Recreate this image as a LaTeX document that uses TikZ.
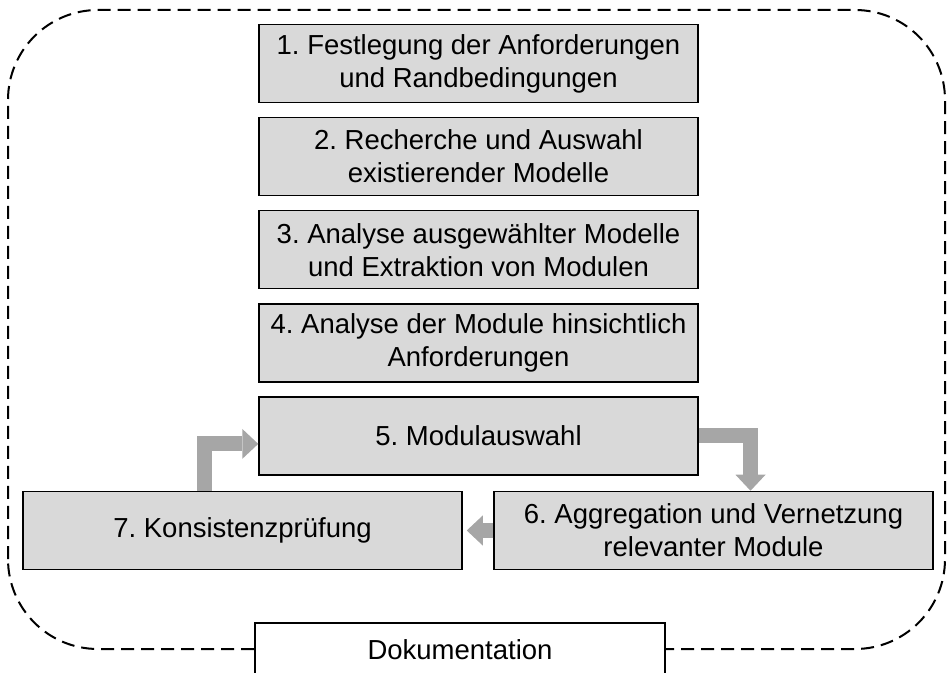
\documentclass[tikz,border=0pt]{standalone}
\usepackage{fontspec}
\setmainfont{Liberation Sans}
\usetikzlibrary{arrows.meta,positioning}
\definecolor{BoxGray}{HTML}{D9D9D9}
\definecolor{FlowGray}{HTML}{A6A6A6}
\frenchspacing

\begin{document}
\begin{tikzpicture}[x=1pt,y=1pt,
      stepbox/.style={rectangle,draw=black,line width=1.5pt,fill=BoxGray,
      minimum width=439pt,minimum height=78pt,align=center,inner sep=2pt,
      font=\fontsize{27.5}{33}\selectfont},
      docbox/.style={stepbox,fill=white,minimum width=410pt,minimum height=53pt},
      flow/.style={-{Triangle[length=16pt,width=30pt,line width=0pt]},FlowGray,
      line width=15pt,line join=miter}]
      \useasboundingbox (0,0) rectangle (947,672);
      \draw[dash pattern=on 13pt off 7pt,line width=2pt,rounded corners=90pt]
        (8,23) rectangle (945,662);
      \node[stepbox] (b1) at (478.5,608.5) {1. Festlegung der Anforderungen\\und Randbedingungen};
      \node[stepbox,below=13.6pt of b1] (b2) {2. Recherche und Auswahl\\existierender Modelle};
      \node[stepbox,below=13.6pt of b2] (b3) {3. Analyse ausgewählter Modelle\\und Extraktion von Modulen};
      \node[stepbox,below=13.6pt of b3] (b4) {4. Analyse der Module hinsichtlich\\Anforderungen};
      \node[stepbox,below=13.6pt of b4] (b5) {5. Modulauswahl};
      \node[stepbox] (b6) at (713.5,141.5) {6. Aggregation und Vernetzung\\relevanter Module};
      \node[stepbox] (b7) at (242.5,141.5) {7. Konsistenzprüfung};
      \node[docbox] (doku) at (460,22.5) {Dokumentation};
      \coordinate (k1) at (204.5,0);
      \coordinate (k2) at (750.5,0);
      \draw[flow] (b7.north -| k1) |- ([yshift=-8pt]b5.west);
      \draw[flow] (b5.east) -| (b6.north -| k2);
      \draw[flow,shorten >=4pt] (b6.west) -- (b7.east);
    \end{tikzpicture}
\end{document}
